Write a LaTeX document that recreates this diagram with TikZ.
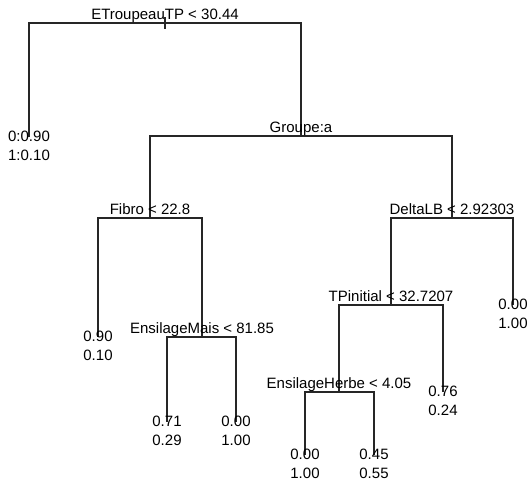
\documentclass[tikz,border=0pt]{standalone}
\usepackage{fontspec}
\setmainfont{Liberation Sans}
\usetikzlibrary{positioning}

\begin{document}
\begin{tikzpicture}[x=1pt, y=-1pt,
        split/.style={anchor=base, inner sep=0pt, yshift=3.5pt, font=\fontsize{15}{18.5}\selectfont},
        leaf/.style={anchor=north, inner sep=0pt, yshift=5.7pt, align=center, font=\fontsize{15}{18.5}\selectfont},
        branch/.style={draw=black!85, line width=1.2pt}
    ]
        \useasboundingbox (0,0) rectangle (530,479);
        % split points
        \coordinate (ROOT) at (165,23);
        \coordinate (GRP) at (301,136);
        \coordinate (FIB) at (150,218);
        \coordinate (MAIS) at (202,337);
        \coordinate (DLB) at (452,218);
        \coordinate (TPI) at (391,305);
        \coordinate (HERB) at (339,392);
        % leaves
        \coordinate (L1) at (29,137);
        \coordinate (L2) at (98,337);
        \coordinate (L3) at (167,422);
        \coordinate (L4) at (236,422);
        \coordinate (L5) at (513,305);
        \coordinate (L6) at (443,392);
        \coordinate (L7) at (305,455);
        \coordinate (L8) at (374,455);
        % branches
        \draw[branch] (ROOT) -| (L1);
        \draw[branch] (ROOT) -| (GRP);
        \draw[branch] ([yshift=6pt]ROOT) -- ([yshift=-6pt]ROOT);
        \draw[branch] (GRP) -| (FIB);
        \draw[branch] (GRP) -| (DLB);
        \draw[branch] (FIB) -| (L2);
        \draw[branch] (FIB) -| (MAIS);
        \draw[branch] (MAIS) -| (L3);
        \draw[branch] (MAIS) -| (L4);
        \draw[branch] (DLB) -| (TPI);
        \draw[branch] (DLB) -| (L5);
        \draw[branch] (TPI) -| (HERB);
        \draw[branch] (TPI) -| (L6);
        \draw[branch] (HERB) -| (L7);
        \draw[branch] (HERB) -| (L8);
        % split labels
        \node[split] (ROOTlab) at (ROOT) {ETroupeauTP < 30.44};
        \node[split] (GRPlab) at (GRP) {Groupe:a};
        \node[split] (FIBlab) at (FIB) {Fibro < 22.8};
        \node[split] (MAISlab) at (MAIS) {EnsilageMais < 81.85};
        \node[split] (DLBlab) at (DLB) {DeltaLB < 2.92303};
        \node[split] (TPIlab) at (TPI) {TPinitial < 32.7207};
        \node[split] (HERBlab) at (HERB) {EnsilageHerbe < 4.05};
        % leaf labels
        \node[leaf] (L1lab) at (L1) {0:0.90\\1:0.10};
        \node[leaf] (L2lab) at (L2) {0.90\\0.10};
        \node[leaf] (L3lab) at (L3) {0.71\\0.29};
        \node[leaf] (L4lab) at (L4) {0.00\\1.00};
        \node[leaf] (L5lab) at (L5) {0.00\\1.00};
        \node[leaf] (L6lab) at (L6) {0.76\\0.24};
        \node[leaf] (L7lab) at (L7) {0.00\\1.00};
        \node[leaf] (L8lab) at (L8) {0.45\\0.55};
    \end{tikzpicture}
\end{document}
